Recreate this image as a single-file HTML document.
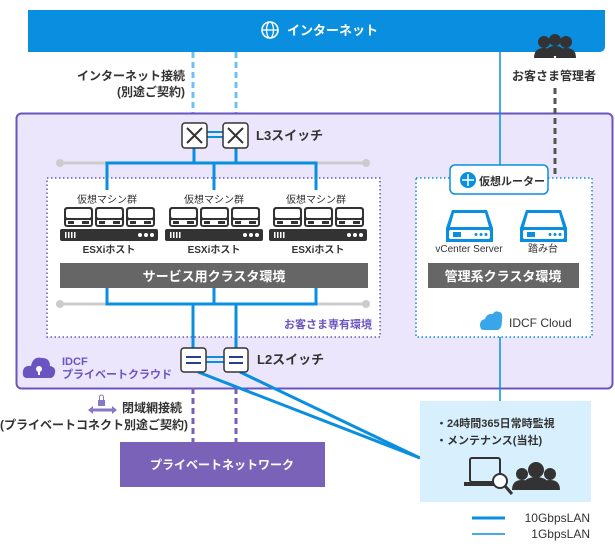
<!DOCTYPE html>
<html><head><meta charset="utf-8"><style>
html,body{margin:0;padding:0;background:#fff}
svg{display:block}
text{font-family:"Liberation Sans","Noto Sans CJK JP",sans-serif;fill:#333}
</style></head><body>
<svg width="615" height="551" viewBox="0 0 615 551" xmlns="http://www.w3.org/2000/svg">
<defs>
<g id="vm"><rect x="0" y="0" width="29" height="20" rx="3" fill="#333"/><rect x="2" y="2" width="25" height="9" rx="2" fill="#fff"/><rect x="2" y="13" width="25" height="5" rx="1" fill="#fff"/><rect x="4" y="14" width="6" height="3" fill="#333"/><rect x="18" y="14" width="7" height="3" fill="#333"/></g>
<g id="host"><rect x="0" y="0" width="98" height="12" rx="2" fill="#333"/><rect x="5" y="3" width="1.5" height="6" fill="#fff"/><rect x="8" y="3" width="1.5" height="6" fill="#fff"/><rect x="11" y="3" width="1.5" height="6" fill="#fff"/><rect x="14" y="3" width="1.5" height="6" fill="#fff"/><circle cx="80" cy="6" r="2" fill="#fff"/><circle cx="86" cy="6" r="2" fill="#fff"/><circle cx="92" cy="6" r="2" fill="#fff"/></g>
<g id="srv"><path d="M6 0 H41 L47 18 V32 H0 V18 Z" fill="#0a8fe0"/><path d="M8 3 H39 L43 17 H4 Z" fill="#fff"/><rect x="3" y="20" width="41" height="9" rx="2" fill="#fff"/><rect x="7" y="22" width="8" height="5" fill="#0a8fe0"/><circle cx="30" cy="24.5" r="1.5" fill="#0a8fe0"/><circle cx="35" cy="24.5" r="1.5" fill="#0a8fe0"/><circle cx="40" cy="24.5" r="1.5" fill="#0a8fe0"/></g>
<g id="person"><circle cx="0" cy="-8" r="6" fill="#333"/><path d="M-10 8 Q-10 -2 0 -2 Q10 -2 10 8 Z" fill="#333"/></g>
</defs>

<!-- internet bar -->
<path d="M28 10 H605 V46 Q605 52 599 52 H28 Z" fill="#0a8fe0"/>
<circle cx="270" cy="30" r="8" fill="none" stroke="#fff" stroke-width="1.6"/>
<ellipse cx="270" cy="30" rx="3.5" ry="8" fill="none" stroke="#fff" stroke-width="1.3"/>
<line x1="262" y1="30" x2="278" y2="30" stroke="#fff" stroke-width="1.3"/>
<text x="287" y="35" font-size="13" font-weight="bold" style="fill:#fff">インターネット</text>

<!-- dashed internet lines -->
<line x1="193" y1="52" x2="193" y2="123" stroke="#6cc3f3" stroke-width="3" stroke-dasharray="6,4"/>
<line x1="236" y1="52" x2="236" y2="123" stroke="#6cc3f3" stroke-width="3" stroke-dasharray="6,4"/>
<text x="185" y="80" font-size="12" font-weight="bold" text-anchor="end">インターネット接続</text>
<text x="185" y="96" font-size="12" font-weight="bold" text-anchor="end">(別途ご契約)</text>

<!-- customer admins -->
<use href="#person" x="544" y="50"/><use href="#person" x="566" y="50"/><use href="#person" x="555" y="48"/>
<text x="554" y="80" font-size="12" font-weight="bold" text-anchor="middle">お客さま管理者</text>

<!-- purple region -->
<rect x="16.5" y="113.5" width="596" height="275" rx="5" fill="#ebe6fb" stroke="#6a55c0" stroke-width="2"/>

<!-- line internet to router -->
<line x1="500" y1="52" x2="500" y2="166" stroke="#0a8fe0" stroke-width="1.5"/>
<line x1="500" y1="337" x2="500" y2="402" stroke="#0a8fe0" stroke-width="1.5"/>
<!-- dashed arrow -->
<line x1="555" y1="88" x2="555" y2="196" stroke="#555" stroke-width="3" stroke-dasharray="6,4"/>
<path d="M549 195 H561 L555 205 Z" fill="#555"/>

<!-- service dotted box -->
<rect x="47" y="178" width="333" height="159" fill="#fff" stroke="#6a55c0" stroke-width="1.5" stroke-dasharray="1.5,2.5"/>
<!-- mgmt dotted box -->
<rect x="416" y="178" width="176" height="159" fill="#fff" stroke="#0a8fe0" stroke-width="1.5" stroke-dasharray="1.5,2.5"/>

<!-- gray lines -->
<line x1="60" y1="163" x2="366" y2="163" stroke="#ccc" stroke-width="3"/>
<circle cx="60" cy="163" r="4" fill="#ccc"/><circle cx="366" cy="163" r="4" fill="#ccc"/>
<line x1="60" y1="304" x2="366" y2="304" stroke="#ccc" stroke-width="3"/>
<circle cx="60" cy="304" r="4" fill="#ccc"/><circle cx="366" cy="304" r="4" fill="#ccc"/>

<!-- blue upper network -->
<g stroke="#0a8fe0" stroke-width="3" fill="none">
<path d="M194 148 V163 M236 148 V163 M107 190 V163 H316 V190 M214 163 V190"/>
<path d="M107 288 V304 H316 V288 M214 288 V304 M193 304 V348 M236 304 V348"/>
<line x1="198" y1="372" x2="420" y2="458"/>
<line x1="240" y1="372" x2="420" y2="458"/>
<line x1="207" y1="132" x2="223" y2="132" stroke-width="2"/><line x1="207" y1="137" x2="223" y2="137" stroke-width="2"/>
<line x1="206" y1="357" x2="224" y2="357" stroke-width="2"/><line x1="206" y1="362" x2="224" y2="362" stroke-width="2"/>
</g>

<!-- L3 switches -->
<g>
<rect x="182" y="123" width="25" height="25" rx="3" fill="#fff" stroke="#333" stroke-width="1.5"/>
<path d="M187 128 L202 143 M202 128 L187 143" stroke="#333" stroke-width="2"/>
<rect x="223" y="123" width="25" height="25" rx="3" fill="#fff" stroke="#333" stroke-width="1.5"/>
<path d="M228 128 L243 143 M243 128 L228 143" stroke="#333" stroke-width="2"/>
</g>
<text x="256" y="140" font-size="13" font-weight="bold">L3スイッチ</text>

<!-- VM groups -->
<g font-size="10">
<text x="107" y="203" font-size="10" text-anchor="middle">仮想マシン群</text>
<text x="214" y="203" font-size="10" text-anchor="middle">仮想マシン群</text>
<text x="316" y="203" font-size="10" text-anchor="middle">仮想マシン群</text>
</g>
<use href="#vm" x="64" y="207"/><use href="#vm" x="95" y="207"/><use href="#vm" x="126" y="207"/><use href="#host" x="60" y="229"/>
<use href="#vm" x="169" y="207"/><use href="#vm" x="200" y="207"/><use href="#vm" x="231" y="207"/><use href="#host" x="165" y="229"/>
<use href="#vm" x="273" y="207"/><use href="#vm" x="304" y="207"/><use href="#vm" x="335" y="207"/><use href="#host" x="269" y="229"/>
<text x="109" y="253" font-size="10" font-weight="bold" text-anchor="middle">ESXiホスト</text>
<text x="214" y="253" font-size="10" font-weight="bold" text-anchor="middle">ESXiホスト</text>
<text x="318" y="253" font-size="10" font-weight="bold" text-anchor="middle">ESXiホスト</text>

<rect x="60" y="263" width="308" height="25" fill="#666"/>
<text x="214" y="281" font-size="13" font-weight="bold" text-anchor="middle" style="fill:#fff">サービス用クラスタ環境</text>
<text x="372" y="328" font-size="11" font-weight="bold" text-anchor="end" style="fill:#6a55c0">お客さま専有環境</text>

<!-- router pill -->
<rect x="450" y="165" width="98" height="29" rx="5" fill="#fff" stroke="#0a8fe0" stroke-width="1.5"/>
<circle cx="468" cy="180" r="8" fill="#0a8fe0"/>
<path d="M468 174 V186 M462 180 H474" stroke="#fff" stroke-width="1.5"/>
<text x="479" y="185" font-size="11" font-weight="bold">仮想ルーター</text>

<use href="#srv" x="446" y="210"/><use href="#srv" x="520" y="210"/>
<text x="469" y="252" font-size="10" text-anchor="middle">vCenter Server</text>
<text x="543" y="252" font-size="10" text-anchor="middle">踏み台</text>
<rect x="428" y="263" width="151" height="25" fill="#666"/>
<text x="503" y="281" font-size="13" font-weight="bold" text-anchor="middle" style="fill:#fff">管理系クラスタ環境</text>

<!-- IDCF Cloud -->
<path d="M484 330 Q480 330 480 325 Q480 320 485 319 Q487 313 493 314 Q495 310 499 312 Q503 312 502 320 Q502 330 497 330 Z" fill="#3aa6ea"/>
<text x="509" y="327" font-size="12" style="fill:#333">IDCF Cloud</text>

<!-- L2 switches -->
<rect x="181" y="348" width="25" height="24" rx="3" fill="#fff" stroke="#333" stroke-width="1.5"/>
<path d="M186 357 H201 M186 363 H201" stroke="#2a3f8f" stroke-width="2"/>
<rect x="224" y="348" width="24" height="24" rx="3" fill="#fff" stroke="#333" stroke-width="1.5"/>
<path d="M229 357 H243 M229 363 H243" stroke="#2a3f8f" stroke-width="2"/>
<text x="257" y="364" font-size="13" font-weight="bold">L2スイッチ</text>

<!-- IDCF private cloud -->
<path d="M27 378 Q22 378 23 371 Q24 365 31 366 Q33 356 42 358 Q50 358 50 366 Q56 367 55 373 Q54 378 50 378 Z" fill="#6a55c0"/>
<circle cx="39" cy="369" r="3" fill="#fff"/><rect x="38" y="369" width="2" height="6" fill="#fff"/>
<text x="62" y="365" font-size="11" font-weight="bold" style="fill:#6a55c0">IDCF</text>
<text x="62" y="378" font-size="11" font-weight="bold" style="fill:#6a55c0">プライベートクラウド</text>

<!-- private network -->
<line x1="193" y1="388" x2="193" y2="442" stroke="#7a5fb5" stroke-width="3" stroke-dasharray="6,4"/>
<line x1="236" y1="388" x2="236" y2="442" stroke="#7a5fb5" stroke-width="3" stroke-dasharray="6,4"/>
<rect x="120" y="442" width="205" height="45" fill="#7a62b8"/>
<text x="222" y="469" font-size="12" font-weight="bold" text-anchor="middle" style="fill:#fff">プライベートネットワーク</text>
<rect x="98" y="400" width="7" height="6" fill="#8a76c8"/><path d="M99.5 400 V397 A2 2 0 0 1 103.5 397 V400" stroke="#8a76c8" fill="none"/>
<path d="M88 410 L93 406 V408.5 H112 V406 L117 410 L112 414 V411.5 H93 V414 Z" fill="#8a76c8"/>
<text x="122" y="412" font-size="12" font-weight="bold">閉域網接続</text>
<text x="188" y="429" font-size="12" font-weight="bold" text-anchor="end">(プライベートコネクト別途ご契約)</text>

<!-- monitoring box -->
<rect x="420" y="401" width="171" height="101" fill="#d8f0fd"/>
<text x="436" y="427" font-size="11" font-weight="bold">・24時間365日常時監視</text>
<text x="436" y="444" font-size="11" font-weight="bold">・メンテナンス(当社)</text>
<rect x="470" y="458" width="30" height="24" rx="2" fill="none" stroke="#333" stroke-width="2"/>
<rect x="464" y="482" width="42" height="4" fill="#333"/>
<circle cx="500" cy="481" r="7" fill="#fff" stroke="#333" stroke-width="2"/>
<line x1="505" y1="486" x2="512" y2="494" stroke="#333" stroke-width="3"/>
<use href="#person" x="522" y="482"/><use href="#person" x="550" y="482"/>
<circle cx="536" cy="470" r="8" fill="#333"/><path d="M522 490 Q522 477 536 477 Q550 477 550 490 Z" fill="#333"/>

<!-- legend -->
<line x1="472" y1="518" x2="505" y2="518" stroke="#0a8fe0" stroke-width="3"/>
<line x1="472" y1="534" x2="505" y2="534" stroke="#0a8fe0" stroke-width="1.5"/>
<text x="590" y="522" font-size="12" text-anchor="end">10GbpsLAN</text>
<text x="590" y="538" font-size="12" text-anchor="end">1GbpsLAN</text>
</svg>
</body></html>
